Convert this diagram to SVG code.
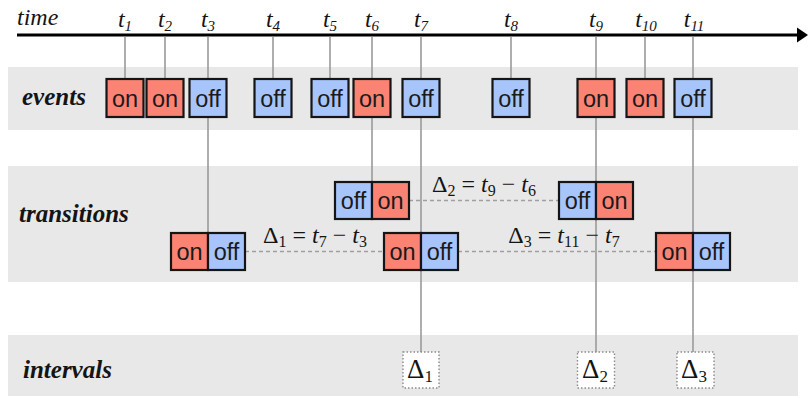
<svg xmlns="http://www.w3.org/2000/svg" width="808" height="398" viewBox="0 0 808 398">
  <defs>
    <style>
      .band { fill: #e8e8e8; }
      .row-label { font-family: "Liberation Serif", "Times New Roman", serif; font-size: 25px; font-weight: bold; font-style: italic; fill: #141414; }
      .axis-label { font-family: "Liberation Serif", "Times New Roman", serif; font-size: 24px; font-style: italic; fill: #141414; }
      .tick-label { font-family: "Liberation Serif", "Times New Roman", serif; font-size: 24px; font-style: italic; fill: #141414; text-anchor: middle; }
      .sub { font-size: 15px; }
      .on { fill: #fa8373; stroke: #151515; stroke-width: 2.2; }
      .off { fill: #a7c4fb; stroke: #151515; stroke-width: 2.2; }
      .state { font-family: "Liberation Sans", Arial, sans-serif; font-size: 23.5px; fill: #1a1a1a; text-anchor: middle; }
      .tick { stroke: #9a9a9a; stroke-width: 1.6; fill: none; }
      .dash { stroke: #a0a0a0; stroke-width: 1.5; stroke-dasharray: 4 3; fill: none; }
      .math { font-family: "Liberation Serif", "Times New Roman", serif; font-size: 24px; fill: #141414; text-anchor: middle; }
      .math .v { font-style: italic; }
      .math .sub { font-size: 16px; }
      .interval-box { fill: #ffffff; stroke: #8a8a8a; stroke-width: 1.4; stroke-dasharray: 1.5 2; }
      .interval-text { font-family: "Liberation Serif", "Times New Roman", serif; font-size: 27px; fill: #141414; }
      .interval-text .sub { font-size: 17px; }
    </style>
  </defs>

  <!-- background bands -->
  <rect width="808" height="398" fill="#ffffff"/>
  <rect class="band" x="8" y="67" width="790" height="63"/>
  <rect class="band" x="8" y="166" width="790" height="116"/>
  <rect class="band" x="8" y="335" width="790" height="61"/>

  <!-- row labels -->
  <text class="row-label" x="22" y="105">events</text>
  <text class="row-label" x="19" y="222">transitions</text>
  <text class="row-label" x="23" y="378">intervals</text>

  <!-- time axis -->
  <g id="time-axis">
    <line x1="17" y1="35" x2="799" y2="35" stroke="#000" stroke-width="3.2"/>
    <polygon points="797,27.5 808,35 797,42.5" fill="#000"/>
    <text class="axis-label" x="17" y="25">time</text>
    <text class="tick-label" x="125" y="27">t<tspan class="sub" dy="4">1</tspan></text>
    <text class="tick-label" x="165" y="27">t<tspan class="sub" dy="4">2</tspan></text>
    <text class="tick-label" x="208" y="27">t<tspan class="sub" dy="4">3</tspan></text>
    <text class="tick-label" x="273" y="27">t<tspan class="sub" dy="4">4</tspan></text>
    <text class="tick-label" x="330" y="27">t<tspan class="sub" dy="4">5</tspan></text>
    <text class="tick-label" x="372" y="27">t<tspan class="sub" dy="4">6</tspan></text>
    <text class="tick-label" x="421" y="27">t<tspan class="sub" dy="4">7</tspan></text>
    <text class="tick-label" x="511" y="27">t<tspan class="sub" dy="4">8</tspan></text>
    <text class="tick-label" x="596" y="27">t<tspan class="sub" dy="4">9</tspan></text>
    <text class="tick-label" x="646" y="27">t<tspan class="sub" dy="4">10</tspan></text>
    <text class="tick-label" x="694" y="27">t<tspan class="sub" dy="4">11</tspan></text>
  </g>

  <!-- connectors: timestamp drop lines and dashed interval links -->
  <g id="connectors">
    <line class="tick" x1="125" y1="37" x2="125" y2="80"/>
    <line class="tick" x1="165" y1="37" x2="165" y2="80"/>
    <line class="tick" x1="208" y1="37" x2="208" y2="234"/>
    <line class="tick" x1="273" y1="37" x2="273" y2="80"/>
    <line class="tick" x1="330" y1="37" x2="330" y2="80"/>
    <line class="tick" x1="372" y1="37" x2="372" y2="183"/>
    <line class="tick" x1="421" y1="37" x2="421" y2="353"/>
    <line class="tick" x1="511" y1="37" x2="511" y2="80"/>
    <line class="tick" x1="596" y1="37" x2="596" y2="353"/>
    <line class="tick" x1="645" y1="37" x2="645" y2="80"/>
    <line class="tick" x1="693" y1="37" x2="693" y2="353"/>
    <line class="dash" x1="409" y1="200.5" x2="559" y2="200.5"/>
    <line class="dash" x1="245" y1="251.5" x2="384" y2="251.5"/>
    <line class="dash" x1="458" y1="251.5" x2="656" y2="251.5"/>
  </g>

  <!-- events -->
  <g id="event-t1"><rect class="on" x="106.5" y="79" width="37" height="38"/><text class="state" x="125" y="106.5">on</text></g>
  <g id="event-t2"><rect class="on" x="146.5" y="79" width="37" height="38"/><text class="state" x="165" y="106.5">on</text></g>
  <g id="event-t3"><rect class="off" x="189.5" y="79" width="37" height="38"/><text class="state" x="208" y="106.5">off</text></g>
  <g id="event-t4"><rect class="off" x="254.5" y="79" width="37" height="38"/><text class="state" x="273" y="106.5">off</text></g>
  <g id="event-t5"><rect class="off" x="311.5" y="79" width="37" height="38"/><text class="state" x="330" y="106.5">off</text></g>
  <g id="event-t6"><rect class="on" x="353.5" y="79" width="37" height="38"/><text class="state" x="372" y="106.5">on</text></g>
  <g id="event-t7"><rect class="off" x="402.5" y="79" width="37" height="38"/><text class="state" x="421" y="106.5">off</text></g>
  <g id="event-t8"><rect class="off" x="492.5" y="79" width="37" height="38"/><text class="state" x="511" y="106.5">off</text></g>
  <g id="event-t9"><rect class="on" x="577.5" y="79" width="37" height="38"/><text class="state" x="596" y="106.5">on</text></g>
  <g id="event-t10"><rect class="on" x="626.5" y="79" width="37" height="38"/><text class="state" x="645" y="106.5">on</text></g>
  <g id="event-t11"><rect class="off" x="674.5" y="79" width="37" height="38"/><text class="state" x="693" y="106.5">off</text></g>

  <!-- transitions -->
  <g id="transition-t6">
    <rect class="off" x="335" y="182" width="37" height="37"/><text class="state" x="353.5" y="209">off</text>
    <rect class="on" x="372" y="182" width="37" height="37"/><text class="state" x="390.5" y="209">on</text>
  </g>
  <g id="transition-t9">
    <rect class="off" x="559" y="182" width="37" height="37"/><text class="state" x="577.5" y="209">off</text>
    <rect class="on" x="596" y="182" width="37" height="37"/><text class="state" x="614.5" y="209">on</text>
  </g>
  <g id="transition-t3">
    <rect class="on" x="171" y="233" width="37" height="37"/><text class="state" x="189.5" y="260">on</text>
    <rect class="off" x="208" y="233" width="37" height="37"/><text class="state" x="226.5" y="260">off</text>
  </g>
  <g id="transition-t7">
    <rect class="on" x="384" y="233" width="37" height="37"/><text class="state" x="402.5" y="260">on</text>
    <rect class="off" x="421" y="233" width="37" height="37"/><text class="state" x="439.5" y="260">off</text>
  </g>
  <g id="transition-t11">
    <rect class="on" x="656" y="233" width="37" height="37"/><text class="state" x="674.5" y="260">on</text>
    <rect class="off" x="693" y="233" width="37" height="37"/><text class="state" x="711.5" y="260">off</text>
  </g>

  <!-- interval formulas -->
  <g id="formula-1"><text class="math" x="315" y="243">Δ<tspan class="sub" dy="4">1</tspan><tspan dy="-4"> = </tspan><tspan class="v">t</tspan><tspan class="sub" dy="4">7</tspan><tspan dy="-4"> − </tspan><tspan class="v">t</tspan><tspan class="sub" dy="4">3</tspan></text></g>
  <g id="formula-2"><text class="math" x="484" y="192">Δ<tspan class="sub" dy="4">2</tspan><tspan dy="-4"> = </tspan><tspan class="v">t</tspan><tspan class="sub" dy="4">9</tspan><tspan dy="-4"> − </tspan><tspan class="v">t</tspan><tspan class="sub" dy="4">6</tspan></text></g>
  <g id="formula-3"><text class="math" x="564" y="243">Δ<tspan class="sub" dy="4">3</tspan><tspan dy="-4"> = </tspan><tspan class="v">t</tspan><tspan class="sub" dy="4">11</tspan><tspan dy="-4"> − </tspan><tspan class="v">t</tspan><tspan class="sub" dy="4">7</tspan></text></g>

  <!-- intervals -->
  <g id="interval-1"><rect class="interval-box" x="403" y="352" width="36" height="36"/><text class="interval-text" x="407" y="378">Δ<tspan class="sub" dy="4">1</tspan></text></g>
  <g id="interval-2"><rect class="interval-box" x="577.5" y="352" width="37" height="36"/><text class="interval-text" x="582" y="378">Δ<tspan class="sub" dy="4">2</tspan></text></g>
  <g id="interval-3"><rect class="interval-box" x="677" y="352" width="37" height="36"/><text class="interval-text" x="681" y="378">Δ<tspan class="sub" dy="4">3</tspan></text></g>
</svg>
